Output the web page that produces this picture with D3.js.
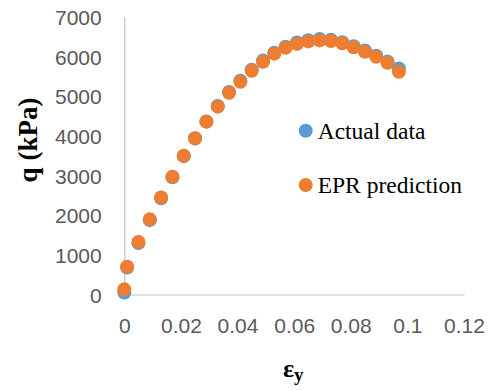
<!DOCTYPE html>
<html>
<head>
<meta charset="utf-8">
<script src="https://cdn.jsdelivr.net/npm/d3@7"></script>
<style>
  body { margin: 0; background: #fff; }
</style>
</head>
<body>
<script>
const WIDTH = 491;
const HEIGHT = 390;
const MARGIN = {
    top: 17,
    right: 27,
    left: 124.3,
    bottom: 95.5,
}

// strain values (same for both series)
const strain = [0, 0.001, 0.005, 0.009, 0.013, 0.017, 0.021, 0.025, 0.029, 0.033,
    0.037, 0.041, 0.045, 0.049, 0.053, 0.057, 0.061, 0.065, 0.069, 0.073,
    0.077, 0.081, 0.085, 0.089, 0.093, 0.097];
const actualQ = [50, 680, 1300, 1875, 2425, 2955, 3490, 3935, 4365, 4755,
    5110, 5395, 5670, 5900, 6100, 6250, 6355, 6415, 6445, 6425,
    6365, 6265, 6155, 6025, 5875, 5700];
const eprQ = [130, 701, 1324, 1896, 2447, 2971, 3500, 3940, 4360, 4738,
    5091, 5368, 5646, 5873, 6075, 6225, 6325, 6385, 6410, 6395,
    6335, 6235, 6125, 5995, 5845, 5620];
const xTicks = [0, 0.02, 0.04, 0.06, 0.08, 0.1, 0.12];
const yTicks = [0, 1000, 2000, 3000, 4000, 5000, 6000, 7000];
const seriesNames = ["Actual data", "EPR prediction"];
const seriesColors = ["#5B9BD5", "#ED7D31"];

const svg = d3.select("body")
    .append("svg")
    .attr("width", WIDTH)
    .attr("height", HEIGHT)

const x = d3.scaleLinear()
    .domain([0, 0.12])
    .range([MARGIN.left, WIDTH - MARGIN.right]);

const y = d3.scaleLinear()
    .domain([0, 7000])
    .range([HEIGHT - MARGIN.bottom, MARGIN.top]);

const TICK_FONT = "'Liberation Sans', Arial, sans-serif";

// axes
const ejeX = svg.append("g")
    .attr("transform", `translate(0 ${y(0)})`)
    .call(d3.axisBottom(x).tickValues(xTicks).tickSize(0).tickFormat(d => String(+d.toFixed(2))));

const ejeY = svg.append("g")
    .attr("transform", `translate(${x(0)} 0)`)
    .call(d3.axisLeft(y).tickValues(yTicks).tickSize(0).tickFormat(d => String(d)));

[ejeX, ejeY].forEach(g => {
    g.select(".domain").attr("stroke", "#C4C4C4").attr("stroke-width", 1.2);
    g.selectAll("text")
        .attr("font-family", TICK_FONT)
        .attr("font-size", 21)
        .attr("fill", "#595959");
});

ejeX.selectAll("text").attr("dy", null).attr("y", 38.5);
ejeY.selectAll("text").attr("x", -22.6).attr("dy", "0.36em");

// points
const series = [actualQ, eprQ];
series.forEach((valores, i) => {
    svg.append("g")
        .selectAll("circle")
        .data(strain.map((s, j) => ({ s: s, q: valores[j] })))
        .join("circle")
        .attr("cx", d => x(d.s))
        .attr("cy", d => y(d.q))
        .attr("r", 7)
        .attr("fill", seriesColors[i]);
});

// legend
const legendY = [130.7, 185];
const leyenda = svg.append("g");
seriesNames.forEach((nombre, i) => {
    leyenda.append("circle")
        .attr("cx", 305.7)
        .attr("cy", legendY[i])
        .attr("r", 7)
        .attr("fill", seriesColors[i]);
    leyenda.append("text")
        .attr("x", 317.7)
        .attr("y", legendY[i] + 7.8)
        .attr("font-family", "'Liberation Serif', 'Times New Roman', serif")
        .attr("font-size", 23.5)
        .attr("fill", "#000")
        .text(nombre);
});

// axis titles
svg.append("text")
    .attr("transform", "translate(37 140) rotate(-90)")
    .attr("text-anchor", "middle")
    .attr("font-family", "'Liberation Serif', 'Times New Roman', serif")
    .attr("font-weight", "bold")
    .attr("font-size", 27)
    .attr("fill", "#000")
    .text("q (kPa)");

const tituloX = svg.append("text")
    .attr("x", 283)
    .attr("y", 377)
    .attr("font-family", "'Liberation Serif', 'Times New Roman', serif")
    .attr("font-weight", "bold")
    .attr("font-size", 26)
    .attr("fill", "#000");
tituloX.append("tspan").text("ε");
tituloX.append("tspan")
    .attr("dy", 4)
    .attr("font-size", 19)
    .text("y");
</script>
</body>
</html>
